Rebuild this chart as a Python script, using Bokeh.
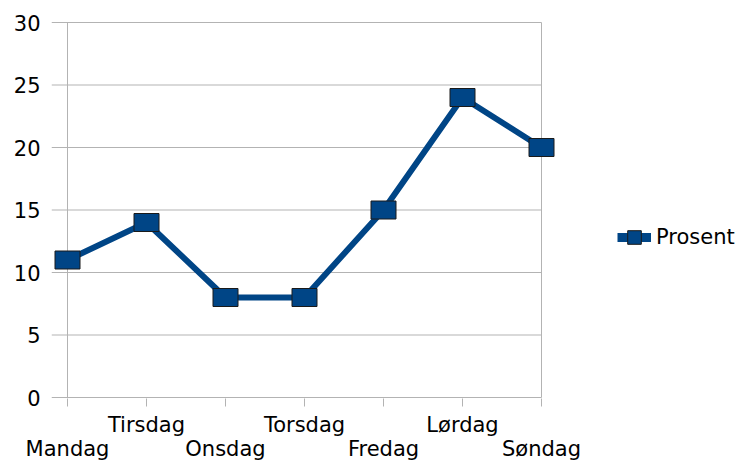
import numpy as np
from bokeh.plotting import figure
from bokeh.models import FixedTicker, Range1d, Legend, LegendItem
from bokeh.embed import file_html
from bokeh.resources import INLINE

days = ["Mandag", "Tirsdag", "Onsdag", "Torsdag", "Fredag", "Lørdag", "Søndag"]
prosent = [11, 14, 8, 8, 15, 24, 20]
y_ticks = [0, 5, 10, 15, 20, 25, 30]
series_name = "Prosent"

BLUE = "#004586"
GRID = "#b3b3b3"
FONT = "DejaVu Sans"
FS = "21px"

n = len(days)
xs = list(range(n))
# staggered category labels (odd ones on the upper row, even ones on the lower row)
labels = {i: (d if i % 2 == 1 else "\n" + d) for i, d in enumerate(days)}

# pixel geometry
W, H = 754, 464
LEFT, RIGHT, TOP = 51, 5, 21
FRAME_W = W - LEFT - RIGHT
FRAME_H = 377
PX_X = 79.0          # px per category step
pad_l = 16 / PX_X    # room left of the first category (tick stubs of the grid)
x0 = -pad_l
x1 = x0 + FRAME_W / PX_X
pad_y = 1 / 12.5

p = figure(width=W, height=H, output_backend="svg", toolbar_location=None,
           x_range=Range1d(x0, x1), y_range=Range1d(y_ticks[0] - pad_y, y_ticks[-1] + pad_y),
           min_border_left=LEFT, min_border_right=RIGHT, min_border_top=TOP,
           min_border_bottom=H - TOP - FRAME_H)
p.outline_line_color = None
p.xgrid.grid_line_color = None
p.ygrid.grid_line_color = None

# y axis (labels only; grid lines are drawn as segments below)
ya = p.yaxis[0]
ya.ticker = FixedTicker(ticks=y_ticks)
ya.major_tick_out = 0
ya.major_tick_in = 0
ya.minor_tick_line_color = None
ya.axis_line_color = None
ya.major_tick_line_color = None
ya.major_label_text_font = FONT
ya.major_label_text_font_size = FS
ya.major_label_text_color = "black"
ya.major_label_standoff = 11

# x axis
xa = p.xaxis[0]
xa.ticker = FixedTicker(ticks=xs)
xa.major_label_overrides = labels
xa.major_tick_out = 8
xa.major_tick_in = 0
xa.minor_tick_line_color = None
xa.axis_line_color = None
xa.major_tick_line_color = GRID
xa.major_label_text_font = FONT
xa.major_label_text_font_size = FS
xa.major_label_text_line_height = 1.0
xa.major_label_text_color = "black"
xa.major_label_standoff = 6

# grid lines / wall border
p.segment(x0=[x0] * len(y_ticks), y0=y_ticks, x1=[xs[-1]] * len(y_ticks), y1=y_ticks,
          line_color=GRID, line_width=1)
p.segment(x0=[xs[0], xs[-1]], y0=[y_ticks[0]] * 2, x1=[xs[0], xs[-1]], y1=[y_ticks[-1]] * 2,
          line_color=GRID, line_width=1)

# data
p.line(xs, prosent, line_width=6, color=BLUE, line_join="round")
p.rect(xs, prosent, width=25, height=18, width_units="screen", height_units="screen",
       fill_color=BLUE, line_color="#1a1a1a", line_width=1)

# legend-only glyphs (no visible data)
nan = np.array([np.nan])
dl = p.line(nan, nan, line_width=9, color=BLUE)
ds = p.scatter(nan, nan, marker="square", fill_color=BLUE, line_color="#1a1a1a", line_width=1)

legend = Legend(items=[LegendItem(label=series_name, renderers=[dl, ds])],
                location=(566, 143), border_line_color=None, background_fill_alpha=0,
                padding=0, margin=0, glyph_width=34, glyph_height=36, label_standoff=5,
                label_text_font=FONT, label_text_font_size=FS, label_text_color="black")
p.add_layout(legend)

open("out.html", "w").write(file_html(p, INLINE))
